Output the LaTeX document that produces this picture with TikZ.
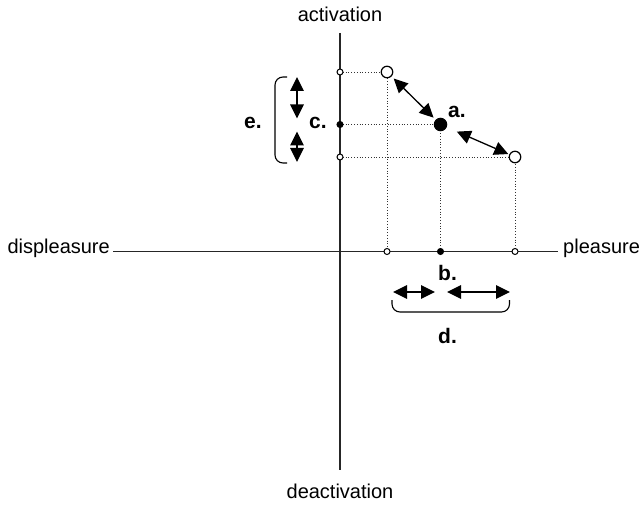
\documentclass[tikz,border=0pt]{standalone}
\usepackage{fontspec}
\setmainfont{Liberation Sans}
\usetikzlibrary{arrows.meta}
\begin{document}
\begin{tikzpicture}[x=1pt,y=-1pt,
  axis/.style={line width=1.3pt,draw=black!85},
  dotline/.style={line width=0.8pt,dotted,draw=black!80},
  smallopen/.style={circle,draw,fill=white,line width=1pt,minimum size=6pt,inner sep=0pt},
  smallfill/.style={circle,draw,fill=black,line width=1pt,minimum size=6pt,inner sep=0pt},
  bigopen/.style={circle,draw,fill=white,line width=1.2pt,minimum size=11.5pt,inner sep=0pt},
  bigfill/.style={circle,draw,fill=black,line width=1pt,minimum size=12.5pt,inner sep=0pt},
  dbl/.style={line width=1.3pt,{Triangle[length=14pt,width=13.5pt]}-{Triangle[length=14pt,width=13.5pt]}},
  brace/.style={line width=1.1pt,rounded corners=8pt},
  lbl/.style={font=\fontsize{20pt}{24pt}\selectfont,inner sep=0pt},
  blbl/.style={font=\fontsize{21pt}{25pt}\selectfont\bfseries,inner sep=0pt,anchor=base west}]
\useasboundingbox (0,0) rectangle (644,505);
% axes
\coordinate (vt) at (340,33);
\coordinate (vb) at (340,470);
\coordinate (hl) at (113,251.5);
\coordinate (hr) at (558,251.5);
\draw[axis] (vt) -- (vb);
\draw[axis] (hl) -- (hr);
% axis labels
\node[lbl,anchor=base] (act) at (340,22) {activation};
\node[lbl,anchor=base] (deact) at (340,498) {deactivation};
\node[lbl,anchor=base east] (displ) at (110,253) {displeasure};
\node[lbl,anchor=base west] (pleas) at (563,253) {pleasure};
% points
\coordinate (v1c) at (340,72);
\coordinate (v2c) at (340,124.5);
\coordinate (v3c) at (340,157);
\coordinate (h1c) at (387,251.5);
\coordinate (h2c) at (440.5,251.5);
\coordinate (h3c) at (515,251.5);
\coordinate (p1c) at (387,72);
\coordinate (ac) at (440.5,124.5);
\coordinate (p3c) at (515,157);
% dotted guides
\draw[dotline] (v1c) -- (p1c) -- (h1c);
\draw[dotline] (v2c) -- (ac) -- (h2c);
\draw[dotline] (v3c) -- (p3c) -- (h3c);
% circles
\node[smallopen] (v1) at (v1c) {};
\node[smallfill] (v2) at (v2c) {};
\node[smallopen] (v3) at (v3c) {};
\node[smallopen] (h1) at (h1c) {};
\node[smallfill] (h2) at (h2c) {};
\node[smallopen] (h3) at (h3c) {};
\node[bigopen] (p1) at (p1c) {};
\node[bigfill] (a) at (ac) {};
\node[bigopen] (p3) at (p3c) {};
% diagonal arrows
\draw[dbl,shorten <=3pt,shorten >=3pt] (p1) -- (a);
\draw[dbl,shorten <=11pt,shorten >=1pt] (a) -- (p3);
% vertical arrows (e)
\coordinate (e1t) at (297,77);
\coordinate (e1b) at (297,118.5);
\coordinate (e2t) at (297,131.5);
\coordinate (e2b) at (297,162);
\draw[dbl] (e1t) -- (e1b);
\draw[dbl] (e2t) -- (e2b);
% left bracket
\coordinate (bl1) at (287,77);
\coordinate (bl2) at (275,77);
\coordinate (bl3) at (275,163);
\coordinate (bl4) at (287,163);
\draw[brace] (bl1) -- (bl2) -- (bl3) -- (bl4);
% horizontal arrows (d)
\coordinate (d1l) at (393,292);
\coordinate (d1r) at (435,292);
\coordinate (d2l) at (447,292);
\coordinate (d2r) at (510,292);
\draw[dbl] (d1l) -- (d1r);
\draw[dbl] (d2l) -- (d2r);
% bottom bracket
\coordinate (bb1) at (392,300);
\coordinate (bb2) at (392,312);
\coordinate (bb3) at (509.5,312);
\coordinate (bb4) at (509.5,300);
\draw[brace] (bb1) -- (bb2) -- (bb3) -- (bb4);
% labels
\node[blbl] (la) at (448,118) {a.};
\node[blbl] (lb) at (438,280) {b.};
\node[blbl] (lc) at (309,129) {c.};
\node[blbl] (ld) at (438,343) {d.};
\node[blbl] (le) at (244,129) {e.};
\end{tikzpicture}
\end{document}
